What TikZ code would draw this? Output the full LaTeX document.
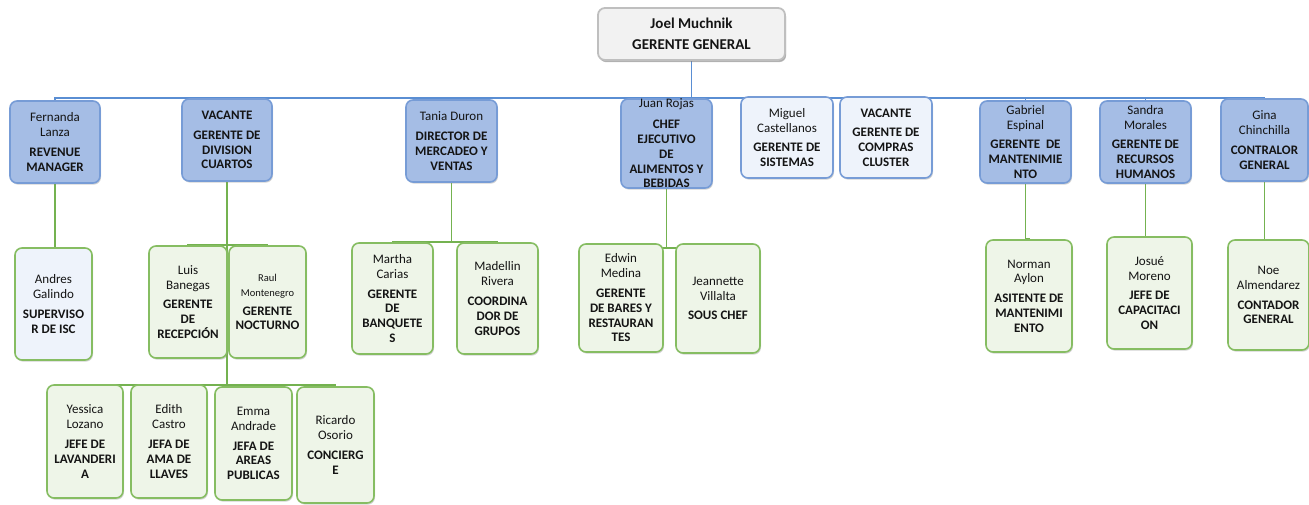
\documentclass[tikz,border=0pt]{standalone}
\usepackage{fontspec}
\setmainfont{Carlito}
\usetikzlibrary{shadows,backgrounds}
\definecolor{bfill}{HTML}{A5BDE5}
\definecolor{bdraw}{HTML}{779CD6}
\definecolor{lfill}{HTML}{EEF3FB}
\definecolor{gfill}{HTML}{EEF5E8}
\definecolor{gdraw}{HTML}{86BD62}
\definecolor{gline}{HTML}{74B250}
\definecolor{bline}{HTML}{5A8ED3}
\definecolor{tfill}{HTML}{F2F2F2}
\definecolor{tdraw}{HTML}{BFBFBF}
\definecolor{txt}{HTML}{141414}
\tikzset{
 base/.style={rounded corners=7pt, line width=1.6pt, align=center, inner sep=0pt, text=txt,
   font=\fontsize{13}{14.8}\selectfont,
   drop shadow={opacity=0.35, shadow xshift=1pt, shadow yshift=-1.6pt}},
 bluebox/.style={base, fill=bfill, draw=bdraw},
 paleblue/.style={base, fill=lfill, draw=bdraw},
 greenbox/.style={base, fill=gfill, draw=gdraw},
 palegreen/.style={base, fill=lfill, draw=gdraw},
 topbox/.style={base, fill=tfill, draw=tdraw, line width=1.8pt, font=\fontsize{15}{16}\selectfont,
   drop shadow={opacity=0.5, shadow xshift=1.2pt, shadow yshift=-2.2pt}},
 bconn/.style={bline, line width=1.7pt},
 gconn/.style={gline, line width=1.5pt},
}
\newcommand\B[1]{\textbf{#1}}
\begin{document}
\begin{tikzpicture}[x=1pt,y=-1pt]
\useasboundingbox (0,0) rectangle (1309,504);
% top
\node[topbox, minimum width=187pt, minimum height=52pt] (joel) at (691.5,34) {\B{Joel Muchnik}\\[5pt]\B{GERENTE GENERAL}};
% first level
\node[bluebox, minimum width=90pt, minimum height=82pt] (fl) at (55,142) {Fernanda\\Lanza\\[5pt]\B{REVENUE}\\\B{MANAGER}};
\node[bluebox, minimum width=90pt, minimum height=82pt] (dc) at (227,140) {\B{VACANTE}\\[5pt]\B{GERENTE DE}\\\B{DIVISION}\\\B{CUARTOS}};
\node[bluebox, minimum width=91pt, minimum height=82pt] (td) at (451.5,141) {Tania Duron\\[5pt]\B{DIRECTOR DE}\\\B{MERCADEO Y}\\\B{VENTAS}};
\node[bluebox, minimum width=91pt, minimum height=79pt] (jr) at (666.5,143.5) {Juan Rojas\\[6pt]\B{CHEF}\\\B{EJECUTIVO}\\\B{DE}\\\B{ALIMENTOS Y}\\\B{BEBIDAS}};
\node[paleblue, minimum width=92pt, minimum height=81pt] (mc) at (787,137.5) {Miguel\\Castellanos\\[5pt]\B{GERENTE DE}\\\B{SISTEMAS}};
\node[paleblue, minimum width=92pt, minimum height=81pt] (vc) at (886,137.5) {\B{VACANTE}\\[5pt]\B{GERENTE DE}\\\B{COMPRAS}\\\B{CLUSTER}};
\node[bluebox, minimum width=91pt, minimum height=82pt] (ge) at (1025.5,142) {Gabriel\\Espinal\\[5pt]\B{GERENTE~ DE}\\\B{MANTENIMIE}\\\B{NTO}};
\node[bluebox, minimum width=91pt, minimum height=82pt] (sm) at (1145.5,142) {Sandra\\Morales\\[5pt]\B{GERENTE DE}\\\B{RECURSOS}\\\B{HUMANOS}};
\node[bluebox, minimum width=87pt, minimum height=82pt] (gc) at (1264.5,140) {Gina\\Chinchilla\\[5pt]\B{CONTRALOR}\\\B{GENERAL}};
% second level
\node[palegreen, minimum width=77pt, minimum height=112pt] (ag) at (53.5,304) {Andres\\Galindo\\[5pt]\B{SUPERVISO}\\\B{R DE ISC}};
\node[greenbox, minimum width=78pt, minimum height=112pt] (lb) at (188,302) {Luis\\Banegas\\[5pt]\B{GERENTE}\\\B{DE}\\\B{RECEPCIÓN}};
\node[greenbox, minimum width=77pt, minimum height=112pt] (rm) at (267.5,302) {{\fontsize{10.5}{12}\selectfont Raul}\\{\fontsize{10.5}{12}\selectfont Montenegro}\\[4pt]\B{GERENTE}\\\B{NOCTURNO}};
\node[greenbox, minimum width=81pt, minimum height=111pt] (mca) at (392.5,298.5) {Martha\\Carias\\[5pt]\B{GERENTE}\\\B{DE}\\\B{BANQUETE}\\\B{S}};
\node[greenbox, minimum width=81pt, minimum height=111pt] (mr) at (497.5,298.5) {Madellin\\Rivera\\[5pt]\B{COORDINA}\\\B{DOR DE}\\\B{GRUPOS}};
\node[greenbox, minimum width=84pt, minimum height=108pt] (emd) at (621,298) {Edwin\\Medina\\[5pt]\B{GERENTE}\\\B{DE BARES Y}\\\B{RESTAURAN}\\\B{TES}};
\node[greenbox, minimum width=84pt, minimum height=109pt] (jv) at (718,298.5) {Jeannette\\Villalta\\[5pt]\B{SOUS CHEF}};
\node[greenbox, minimum width=86pt, minimum height=112pt] (na) at (1029,296) {Norman\\Aylon\\[5pt]\B{ASITENTE DE}\\\B{MANTENIMI}\\\B{ENTO}};
\node[greenbox, minimum width=85pt, minimum height=112pt] (jmo) at (1149.5,293) {Josué\\Moreno\\[5pt]\B{JEFE DE}\\\B{CAPACITACI}\\\B{ON}};
\node[greenbox, minimum width=81pt, minimum height=110pt] (noe) at (1268.5,295) {Noe\\Almendarez\\[5pt]\B{CONTADOR}\\\B{GENERAL}};
% third level
\node[greenbox, minimum width=76pt, minimum height=113pt] (yl) at (85,441.5) {Yessica\\Lozano\\[5pt]\B{JEFE DE}\\\B{LAVANDERI}\\\B{A}};
\node[greenbox, minimum width=76pt, minimum height=113pt] (ec) at (169,441.5) {Edith\\Castro\\[5pt]\B{JEFA DE}\\\B{AMA DE}\\\B{LLAVES}};
\node[greenbox, minimum width=77pt, minimum height=113pt] (ea) at (253.5,443.5) {Emma\\Andrade\\[5pt]\B{JEFA DE}\\\B{AREAS}\\\B{PUBLICAS}};
\node[greenbox, minimum width=77pt, minimum height=116pt] (ro) at (335.5,445) {Ricardo\\Osorio\\[5pt]\B{CONCIERG}\\\B{E}};
% connectors
\begin{scope}[on background layer]
\foreach \c in {fl,dc,td,jr,mc,vc,ge,sm,gc}
  \draw[bconn] (joel.south) -- ++(0,37) -| (\c.north);
\draw[gconn] (fl.south) -- (fl.south |- ag.north);
\foreach \c in {lb,rm}
  \draw[gconn] (dc.south) -- ++(0,63) -| (\c.north);
\foreach \c in {yl,ec,ea,ro}
  \draw[gconn] (dc.south) -- ++(0,203) -| (\c.north);
\foreach \c in {mca,mr}
  \draw[gconn] (td.south) -- ++(0,59) -| (\c.north);
\foreach \c in {emd,jv}
  \draw[gconn] (jr.south) -- ++(0,59) -| (\c.north);
\draw[gconn] (ge.south) -- ++(0,55) -| (na.north);
\draw[gconn] (sm.south) -- ++(0,53) -| (jmo.north);
\draw[gconn] (gc.south) -- ++(0,58) -| (noe.north);
\end{scope}
\end{tikzpicture}
\end{document}
